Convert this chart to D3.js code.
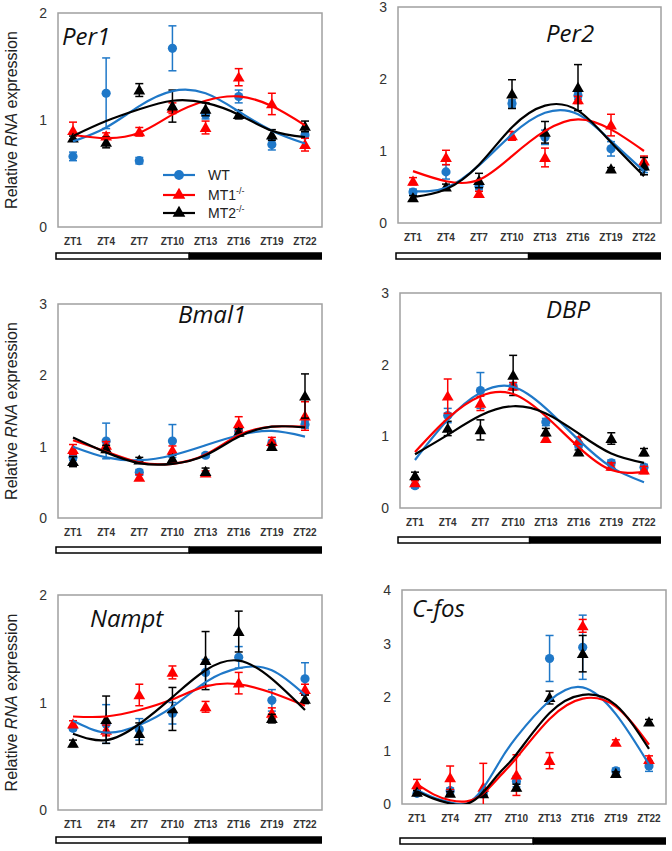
<!DOCTYPE html>
<html><head><meta charset="utf-8">
<script src="https://cdn.jsdelivr.net/npm/d3@7/dist/d3.min.js"></script>
<style>body{margin:0;background:#fff;}svg{display:block;}</style>
</head><body>
<svg id="chart" width="672" height="851"></svg>
<script>
// ---------- DATA ----------
const hours = [1, 4, 7, 10, 13, 16, 19, 22];
const tickLabels = ["ZT1","ZT4","ZT7","ZT10","ZT13","ZT16","ZT19","ZT22"];
const genes = ["Per1","Per2","Bmal1","DBP","Nampt","C-fos"];
const yMaxes = [2, 3, 3, 3, 2, 4];
const seriesNames = ["WT","MT1","MT2"];
const lightDarkSplit = 11.5;

// Per1
const per1WT   = [0.66, 1.25, 0.62, 1.67, 1.05, 1.22, 0.77, 0.86];
const per1WTe  = [0.04, 0.33, 0.03, 0.21, 0.04, 0.06, 0.05, 0.03];
const per1MT1  = [0.90, 0.85, 0.89, 1.11, 0.93, 1.40, 1.15, 0.77];
const per1MT1e = [0.08, 0.03, 0.04, 0.05, 0.06, 0.08, 0.10, 0.06];
const per1MT2  = [0.83, 0.79, 1.28, 1.13, 1.10, 1.05, 0.86, 0.94];
const per1MT2e = [0.02, 0.05, 0.06, 0.15, 0.06, 0.04, 0.05, 0.05];
// Per2
const per2WT   = [0.43, 0.71, 0.51, 1.66, 1.19, 1.77, 1.03, 0.77];
const per2WTe  = [0.04, 0.10, 0.05, 0.05, 0.10, 0.05, 0.10, 0.07];
const per2MT1  = [0.58, 0.91, 0.41, 1.21, 0.91, 1.71, 1.36, 0.86];
const per2MT1e = [0.05, 0.10, 0.03, 0.06, 0.13, 0.05, 0.15, 0.07];
const per2MT2  = [0.35, 0.50, 0.59, 1.79, 1.26, 1.88, 0.75, 0.79];
const per2MT2e = [0.03, 0.04, 0.10, 0.20, 0.15, 0.32, 0.02, 0.12];
// Bmal1
const bmal1WT   = [0.85, 1.08, 0.64, 1.08, 0.88, 1.21, 1.05, 1.31];
const bmal1WTe  = [0.04, 0.25, 0.04, 0.23, 0.03, 0.05, 0.04, 0.05];
const bmal1MT1  = [0.96, 1.02, 0.57, 0.95, 0.63, 1.32, 1.07, 1.43];
const bmal1MT1e = [0.07, 0.05, 0.04, 0.06, 0.03, 0.10, 0.06, 0.20];
const bmal1MT2  = [0.79, 0.97, 0.81, 0.83, 0.65, 1.20, 1.00, 1.71];
const bmal1MT2e = [0.07, 0.05, 0.04, 0.05, 0.05, 0.05, 0.03, 0.31];
// DBP
const dbpWT   = [0.31, 1.29, 1.64, 1.70, 1.20, 0.88, 0.63, 0.57];
const dbpWTe  = [0.03, 0.10, 0.25, 0.05, 0.05, 0.04, 0.04, 0.04];
const dbpMT1  = [0.35, 1.56, 1.46, 1.70, 0.97, 0.94, 0.58, 0.53];
const dbpMT1e = [0.03, 0.24, 0.10, 0.05, 0.05, 0.05, 0.05, 0.05];
const dbpMT2  = [0.45, 1.11, 1.09, 1.85, 1.06, 0.78, 0.97, 0.78];
const dbpMT2e = [0.05, 0.10, 0.14, 0.28, 0.05, 0.03, 0.08, 0.05];
// Nampt
const namptWT   = [0.76, 0.80, 0.75, 0.90, 1.28, 1.42, 1.02, 1.22];
const namptWTe  = [0.02, 0.18, 0.10, 0.10, 0.12, 0.10, 0.10, 0.15];
const namptMT1  = [0.80, 0.74, 1.07, 1.28, 0.96, 1.18, 0.90, 1.12];
const namptMT1e = [0.03, 0.05, 0.10, 0.06, 0.05, 0.10, 0.05, 0.05];
const namptMT2  = [0.62, 0.84, 0.71, 0.94, 1.39, 1.66, 0.85, 1.03];
const namptMT2e = [0.03, 0.22, 0.10, 0.20, 0.27, 0.19, 0.04, 0.04];
// C-fos
const cfosWT   = [0.20, 0.25, 0.19, 0.42, 2.72, 2.93, 0.62, 0.71];
const cfosWTe  = [0.03, 0.05, 0.05, 0.10, 0.43, 0.60, 0.05, 0.10];
const cfosMT1  = [0.36, 0.49, 0.31, 0.54, 0.81, 3.33, 1.15, 0.83];
const cfosMT1e = [0.10, 0.22, 0.45, 0.38, 0.15, 0.12, 0.05, 0.07];
const cfosMT2  = [0.22, 0.20, 0.19, 0.31, 1.99, 2.81, 0.57, 1.53];
const cfosMT2e = [0.03, 0.03, 0.03, 0.06, 0.12, 0.34, 0.03, 0.05];

// Trend (fit) curves
const fitHours = [1, 4, 7, 10, 13, 16, 19, 22];
const per1FitWT  = [0.80, 0.93, 1.13, 1.27, 1.25, 1.08, 0.90, 0.78];
const per1FitMT1 = [0.86, 0.83, 0.88, 1.05, 1.18, 1.22, 1.13, 0.95];
const per1FitMT2 = [0.85, 0.99, 1.10, 1.18, 1.16, 1.05, 0.90, 0.84];
const per2FitWT  = [0.44, 0.49, 0.80, 1.23, 1.53, 1.51, 1.14, 0.72];
const per2FitMT1 = [0.72, 0.58, 0.60, 0.93, 1.28, 1.44, 1.30, 1.00];
const per2FitMT2 = [0.36, 0.47, 0.81, 1.33, 1.63, 1.56, 1.12, 0.65];
const bmal1FitWT  = [1.00, 0.85, 0.81, 0.88, 1.02, 1.16, 1.22, 1.14];
const bmal1FitMT1 = [1.09, 0.93, 0.78, 0.76, 0.89, 1.16, 1.28, 1.28];
const bmal1FitMT2 = [1.13, 0.92, 0.77, 0.76, 0.88, 1.14, 1.28, 1.27];
const dbpFitWT  = [0.67, 1.23, 1.61, 1.69, 1.39, 0.95, 0.57, 0.36];
const dbpFitMT1 = [0.78, 1.25, 1.56, 1.59, 1.28, 0.85, 0.53, 0.50];
const dbpFitMT2 = [0.75, 1.02, 1.29, 1.42, 1.32, 1.04, 0.76, 0.63];
const namptFitWT  = [0.83, 0.72, 0.79, 0.96, 1.19, 1.32, 1.30, 1.07];
const namptFitMT1 = [0.87, 0.87, 0.93, 1.03, 1.15, 1.17, 1.09, 0.97];
const namptFitMT2 = [0.71, 0.65, 0.80, 1.05, 1.30, 1.39, 1.22, 0.93];
const cfosFitHours = [1, 2.5, 4, 5.5, 7, 8.5, 10, 13, 16, 19, 22];
const cfosFitWT  = [0.26, 0.12, 0.03, 0.01, 0.30, 0.80, 1.25, 1.93, 2.18, 1.68, 0.74];
const cfosFitMT1 = [0.37, 0.18, 0.07, 0.05, 0.20, 0.52, 0.86, 1.59, 1.97, 1.82, 1.11];
const cfosFitMT2 = [0.24, 0.10, 0.01, 0.00, 0.22, 0.59, 0.93, 1.70, 2.04, 1.85, 1.03];

// ---------- TABLES built from the arrays ----------
const means = {
  "Per1":[per1WT,per1MT1,per1MT2], "Per2":[per2WT,per2MT1,per2MT2],
  "Bmal1":[bmal1WT,bmal1MT1,bmal1MT2], "DBP":[dbpWT,dbpMT1,dbpMT2],
  "Nampt":[namptWT,namptMT1,namptMT2], "C-fos":[cfosWT,cfosMT1,cfosMT2]
};
const errs = {
  "Per1":[per1WTe,per1MT1e,per1MT2e], "Per2":[per2WTe,per2MT1e,per2MT2e],
  "Bmal1":[bmal1WTe,bmal1MT1e,bmal1MT2e], "DBP":[dbpWTe,dbpMT1e,dbpMT2e],
  "Nampt":[namptWTe,namptMT1e,namptMT2e], "C-fos":[cfosWTe,cfosMT1e,cfosMT2e]
};
const fits = {
  "Per1":[fitHours,[per1FitWT,per1FitMT1,per1FitMT2]],
  "Per2":[fitHours,[per2FitWT,per2FitMT1,per2FitMT2]],
  "Bmal1":[fitHours,[bmal1FitWT,bmal1FitMT1,bmal1FitMT2]],
  "DBP":[fitHours,[dbpFitWT,dbpFitMT1,dbpFitMT2]],
  "Nampt":[fitHours,[namptFitWT,namptFitMT1,namptFitMT2]],
  "C-fos":[cfosFitHours,[cfosFitWT,cfosFitMT1,cfosFitMT2]]
};

// ---------- LAYOUT / STYLE ----------
const colors = ["#1f78c8", "#ff0000", "#000000"];
const shapes = [d3.symbolCircle, d3.symbolTriangle, d3.symbolTriangle];
const shapeSizes = [66, 60, 60];
const layout = [
  {l:58,  t:13,  r:322, b:227, tx:62,  ty:45,  tAnchor:"start", bar:26, ylab:true},
  {l:398, t:7,   r:661, b:223, tx:546, ty:42,  tAnchor:"start", bar:30, ylab:false},
  {l:58,  t:304, r:322, b:518, tx:178, ty:323, tAnchor:"start", bar:29, ylab:true},
  {l:400, t:293, r:661, b:508, tx:546, ty:318, tAnchor:"start", bar:29, ylab:false},
  {l:58,  t:595, r:322, b:810, tx:90,  ty:627, tAnchor:"start", bar:27, ylab:true},
  {l:402, t:590, r:666, b:804, tx:412, ty:617, tAnchor:"start", bar:34, ylab:false}
];

const svg = d3.select("#chart");
const font = "Arial, 'Liberation Sans', sans-serif";

genes.forEach((gene, gi) => {
  const L = layout[gi];
  const x = d3.scaleLinear().domain([1, 22]).range([L.l + 15, L.r - 17]);
  const y = d3.scaleLinear().domain([0, yMaxes[gi]]).range([L.b, L.t]);
  const g = svg.append("g");

  const cid = "clip" + gi;
  svg.append("clipPath").attr("id", cid).append("rect")
    .attr("x", L.l).attr("y", L.t).attr("width", L.r - L.l).attr("height", L.b - L.t);

  g.append("rect").attr("x", L.l).attr("y", L.t).attr("width", L.r - L.l).attr("height", L.b - L.t)
    .attr("fill", "#fff").attr("stroke", "#a0a0a0").attr("stroke-width", 1.5);

  const yt = d3.range(0, yMaxes[gi] + 1);
  g.selectAll(".yt").data(yt).enter().append("text")
    .attr("x", L.l - 11).attr("y", d => y(d)).attr("dy", "0.36em")
    .attr("text-anchor", "end").attr("font-family", font).attr("font-size", 14).attr("fill", "#333")
    .text(d => d);

  g.selectAll(".xt").data(hours).enter().append("text")
    .attr("x", d => x(d)).attr("y", L.b + 18)
    .attr("text-anchor", "middle").attr("font-family", font).attr("font-size", 10)
    .attr("font-weight", "bold").attr("fill", "#333")
    .text((d, i) => tickLabels[i]);

  const by = L.b + L.bar;
  g.append("rect").attr("x", L.l - 2).attr("y", by).attr("width", x(lightDarkSplit) - (L.l - 2)).attr("height", 6)
    .attr("fill", "#fff").attr("stroke", "#000").attr("stroke-width", 1.5);
  g.append("rect").attr("x", x(lightDarkSplit)).attr("y", by - 0.75).attr("width", L.r - x(lightDarkSplit)).attr("height", 7.5)
    .attr("fill", "#000");

  if (L.ylab) {
    const t = g.append("text")
      .attr("transform", `translate(17,${(L.t + L.b) / 2}) rotate(-90)`)
      .attr("text-anchor", "middle").attr("font-family", font).attr("font-size", 16).attr("fill", "#222");
    t.append("tspan").text("Relative ");
    t.append("tspan").attr("font-style", "italic").text("RNA");
    t.append("tspan").text(" expression");
  }

  g.append("text").attr("x", L.tx).attr("y", L.ty).attr("text-anchor", L.tAnchor)
    .attr("font-family", "'Open Sans', sans-serif").attr("font-style", "italic").attr("font-size", 24)
    .attr("fill", "#111").text(gene);

  const pg = g.append("g").attr("clip-path", `url(#${cid})`);
  seriesNames.forEach((s, si) => {
    const vals = means[gene][si], ers = errs[gene][si];
    const eg = pg.append("g").attr("stroke", colors[si]).attr("stroke-width", 1.5);
    hours.forEach((h, i) => {
      const cx = x(h), y1 = y(vals[i] + ers[i]), y0 = y(vals[i] - ers[i]);
      eg.append("line").attr("x1", cx).attr("x2", cx).attr("y1", y0).attr("y2", y1);
      eg.append("line").attr("x1", cx - 4).attr("x2", cx + 4).attr("y1", y1).attr("y2", y1);
      eg.append("line").attr("x1", cx - 4).attr("x2", cx + 4).attr("y1", y0).attr("y2", y0);
    });
    pg.selectAll(".m" + si).data(vals).enter().append("path")
      .attr("d", d3.symbol().type(shapes[si]).size(shapeSizes[si]))
      .attr("transform", (d, i) => `translate(${x(hours[i])},${y(d) + (si ? 1 : 0)})`)
      .attr("fill", colors[si]);
  });

  const [fh, fv] = fits[gene];
  const lg = g.append("g").attr("clip-path", `url(#${cid})`);
  seriesNames.forEach((s, si) => {
    const line = d3.line().x((d, i) => x(fh[i])).y(d => y(d)).curve(d3.curveNatural);
    lg.append("path").attr("d", line(fv[si])).attr("fill", "none")
      .attr("stroke", colors[si]).attr("stroke-width", 2.2);
  });
});

// legend in first panel
const legendLabels = ["WT", "MT1", "MT2"];
const legY = [175, 195, 213];
const lgd = svg.append("g");
legendLabels.forEach((lab, i) => {
  lgd.append("line").attr("x1", 163).attr("x2", 195).attr("y1", legY[i]).attr("y2", legY[i])
    .attr("stroke", colors[i]).attr("stroke-width", 2.2);
  lgd.append("path").attr("d", d3.symbol().type(shapes[i]).size(shapeSizes[i] + 10)())
    .attr("transform", `translate(179,${legY[i]})`).attr("fill", colors[i]);
  const t = lgd.append("text").attr("x", 208).attr("y", legY[i] + 5)
    .attr("font-family", font).attr("font-size", 14).attr("fill", "#222");
  t.append("tspan").text(lab);
  if (i) t.append("tspan").attr("font-size", 9).attr("dy", -6).text("-/-");
});
</script>
</body></html>
